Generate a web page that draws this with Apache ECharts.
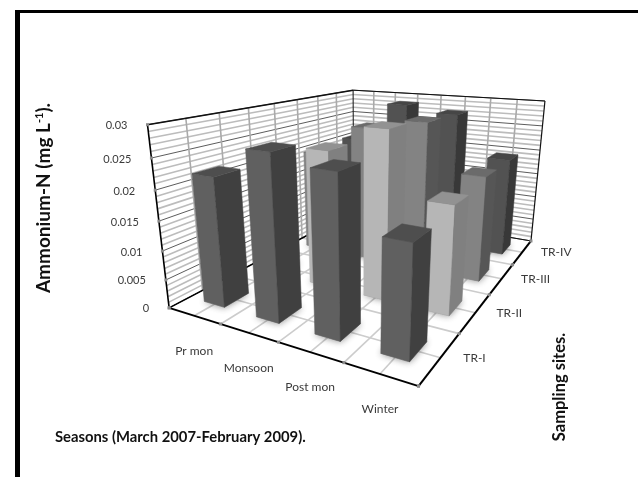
<!DOCTYPE html>
<html><head><meta charset="utf-8">
<style>html,body{margin:0;padding:0;background:#fff}#c{width:638px;height:477px}</style>
<script src="https://cdn.jsdelivr.net/npm/echarts@6/dist/echarts.min.js"></script>
</head><body><div id="c"></div>
<script>
var seasons = ['Pr mon','Monsoon','Post mon','Winter'];
var sites = ['TR-I','TR-II','TR-III','TR-IV'];
var valueTicks = ['0','0.005','0.01','0.015','0.02','0.025','0.03'];
var trI   = [0.0220,0.0270,0.0255,0.0175];
var trII  = [0.0200,0.0245,0.0290,0.0185];
var trIII = [0.0200,0.0260,0.0280,0.0195];
var trIV  = [0.0205,0.0287,0.0275,0.0195];
var siteValues = [trI,trII,trIII,trIV];
var axisMax = 0.03;
var FONT = 'Lato, "Open Sans", sans-serif';

// Camera calibration: [season-axis, site-axis, height] -> picture position
var cameraAnchors = [
 [0,0,0,170,307],[.25,0,0,222,325],[.5,0,0,278,343],[.75,0,0,343,363],[1,0,0,418,386],
 [1,.25,0,460,333],[1,.5,0,490,294],[1,.75,0,512,264],[1,1,0,531,242],
 [0,0,1,148,125],[0,1,1,353,90],[1,1,1,545,101],
 [0,0,1/6,165,279],[0,0,2/6,162,252],[0,0,3/6,158,221],[0,0,4/6,155,190],[0,0,5/6,152,158]
];
function solveCamera(){
  var n=11,S=500,A=[],b=[],i,j,k;
  for(i=0;i<n;i++){A.push(new Array(n).fill(0));b.push(0);}
  function add(r,v){for(var i=0;i<n;i++){for(var j=0;j<n;j++)A[i][j]+=r[i]*r[j];b[i]+=r[i]*v;}}
  cameraAnchors.forEach(function(a){
    var x=a[0],y=a[1],z=a[2],u=a[3]/S,v=a[4]/S;
    add([x,y,z,1,0,0,0,0,-u*x,-u*y,-u*z],u);
    add([0,0,0,0,x,y,z,1,-v*x,-v*y,-v*z],v);
  });
  for(i=0;i<n;i++){
    var p=i;for(j=i+1;j<n;j++)if(Math.abs(A[j][i])>Math.abs(A[p][i]))p=j;
    var t=A[i];A[i]=A[p];A[p]=t;t=b[i];b[i]=b[p];b[p]=t;
    for(j=i+1;j<n;j++){var f=A[j][i]/A[i][i];for(k=i;k<n;k++)A[j][k]-=f*A[i][k];b[j]-=f*b[i];}
  }
  var m=new Array(n);
  for(i=n-1;i>=0;i--){var s=b[i];for(k=i+1;k<n;k++)s-=A[i][k]*m[k];m[i]=s/A[i][i];}
  return function(x,y,z){
    var w=m[8]*x+m[9]*y+m[10]*z+1;
    return [S*(m[0]*x+m[1]*y+m[2]*z+m[3])/w, S*(m[4]*x+m[5]*y+m[6]*z+m[7])/w];
  };
}
var P=solveCamera();

function poly(pts,fill,extra){
  var e={type:'polygon',shape:{points:pts},style:{fill:fill,stroke:fill,lineWidth:0.5}};
  if(extra)for(var k in extra)e.style[k]=extra[k];
  return e;
}
function line(a,b,color,w){
  return {type:'line',shape:{x1:a[0],y1:a[1],x2:b[0],y2:b[1]},style:{stroke:color,lineWidth:w,fill:null}};
}
function label(text,pos,align,size){
  return {type:'text',style:{text:text,x:pos[0],y:pos[1],align:align,verticalAlign:'middle',
    fill:'#3a3a3a',fontSize:size||11,fontFamily:FONT}};
}
function dotTick(p){
  return {type:'rect',shape:{x:p[0]-1.5,y:p[1]-1.5,width:3,height:3},style:{fill:'#8a8a8a'}};
}

function renderFrame(){
  var c=[],i,f;
  var GV='#aaaaaa',GM='#bcbcbc',GH='#5c5c5c',GF='#cccccc';
  for(i=0;i<=30;i++){
    f=i/30;
    var major=i%5===0;
    c.push(line(P(0,0,f),P(0,1,f),major?GH:GM,major?1:1.6));
    c.push(line(P(0,1,f),P(1,1,f),major?GH:GM,major?1:1.6));
  }
  for(i=1;i<8;i++){
    f=i/8;
    c.push(line(P(0,f,0),P(0,f,1),GV,1.6));
    c.push(line(P(f,1,0),P(f,1,1),GV,1.6));
    c.push(line(P(f,0,0),P(f,1,0),GF,1.6));
    c.push(line(P(0,f,0),P(1,f,0),GF,1.6));
  }
  c.push(line(P(0,1,0),P(0,1,1),'#111',1));
  c.push(line(P(0,1,0),P(1,1,0),'#111',1));
  c.push(line(P(0,0,0),P(0,1,0),'#000',1.6));
  c.push(line(P(0,1,1),P(1,1,1),'#111',1));
  c.push(line(P(1,1,0),P(1,1,1),'#111',1.2));
  c.push(line(P(0,0,1),P(0,1,1),'#111',1.6));
  c.push(line(P(0,0,0),P(0,0,1),'#000',1.6));
  c.push(line(P(0,0,0),P(1,0,0),'#000',2));
  c.push(line(P(1,0,0),P(1,1,0),'#000',2));
  valueTicks.forEach(function(t,k){
    var p=P(0,0,k/6);
    c.push(dotTick(p));
    c.push(label(t,[p[0]-20,p[1]+1],'right'));
  });
  for(i=0;i<=4;i++){
    c.push(dotTick(P(i/4,0,0)));
    c.push(dotTick(P(1,i/4,0)));
  }
  seasons.forEach(function(t,k){
    var p=P((k+.5)/4,0,0);
    c.push(label(t,[p[0],p[1]+35],'center',12));
  });
  sites.forEach(function(t,k){
    var p=P(1,(k+.5)/4,0);
    c.push(label(t,[p[0]+34,p[1]],'center',12));
  });
  return {type:'group',children:c};
}

var barColours=[
 {l:'#606060',r:'#404040',t:'#4e4e4e'},
 {l:'#b6b6b6',r:'#808080',t:'#929292'},
 {l:'#838383',r:'#565656',t:'#6b6b6b'},
 {l:'#525252',r:'#383838',t:'#464646'}
];
function renderBar(params,api){
  var sys=params.coordSys;
  var pt=api.coord([api.value(0),api.value(2)]);
  var sc=(pt[0]-sys.x)/sys.width;
  var z=(sys.y+sys.height-pt[1])/sys.height;
  var row=api.value(1);
  var tc=(row+.5)/4, h=0.05;
  var s0=sc-h,s1=sc+h,t0=tc-h,t1=tc+h;
  var col=barColours[row];
  return {type:'group',children:[
    poly([P(s0,t0,0),P(s1,t0,0),P(s1,t1,0),P(s0,t1,0)],'#999',{shadowBlur:7,shadowColor:'rgba(0,0,0,.45)'}),
    poly([P(s0,t0,0),P(s1,t0,0),P(s1,t0,z),P(s0,t0,z)],col.l),
    poly([P(s1,t0,0),P(s1,t1,0),P(s1,t1,z),P(s1,t0,z)],col.r),
    poly([P(s0,t0,z),P(s1,t0,z),P(s1,t1,z),P(s0,t1,z)],col.t)
  ]};
}

var barData=[];
for(var r=3;r>=0;r--){
  for(var q=0;q<4;q++) barData.push([q,r,siteValues[r][q]]);
}

var chart=echarts.init(document.getElementById('c'),null,{renderer:'canvas'});
chart.setOption({
  animation:false,
  backgroundColor:'#fff',
  grid:{left:100,top:100,width:400,height:200,show:false},
  xAxis:{type:'category',data:seasons,show:false},
  yAxis:{type:'value',min:0,max:axisMax,show:false},
  tooltip:{show:false},
  series:[
    {type:'custom',name:'frame',silent:true,clip:false,data:[[0,0]],renderItem:renderFrame,z:1},
    {type:'custom',name:'Ammonium-N',silent:true,clip:false,data:barData,
     dimensions:['season','site','value'],encode:{x:0,y:2},renderItem:renderBar,z:2}
  ],
  graphic:[
    {type:'rect',shape:{x:15,y:10,width:623,height:3},style:{fill:'#000'},silent:true},
    {type:'rect',shape:{x:15,y:10,width:5,height:467},style:{fill:'#000'},silent:true},
    {type:'text',x:44,y:198,rotation:Math.PI/2,silent:true,
      style:{text:'{b|Ammonium-N (mg L}{s|-1}{b|).}',align:'center',verticalAlign:'middle',
        rich:{b:{fontSize:19,fontWeight:'bold',fontFamily:FONT,fill:'#111'},
              s:{fontSize:11,fontWeight:'bold',fontFamily:FONT,fill:'#111',padding:[0,0,9,0]}}}},
    {type:'text',x:560,y:387,rotation:Math.PI/2,silent:true,
      style:{text:'Sampling sites.',align:'center',verticalAlign:'middle',fontSize:16.5,fontWeight:'bold',fontFamily:FONT,fill:'#111'}},
    {type:'text',x:55,y:437,silent:true,
      style:{text:'Seasons (March 2007-February 2009).',align:'left',verticalAlign:'middle',fontSize:14.8,fontWeight:'bold',fontFamily:FONT,fill:'#111'}}
  ]
});
</script></body></html>
